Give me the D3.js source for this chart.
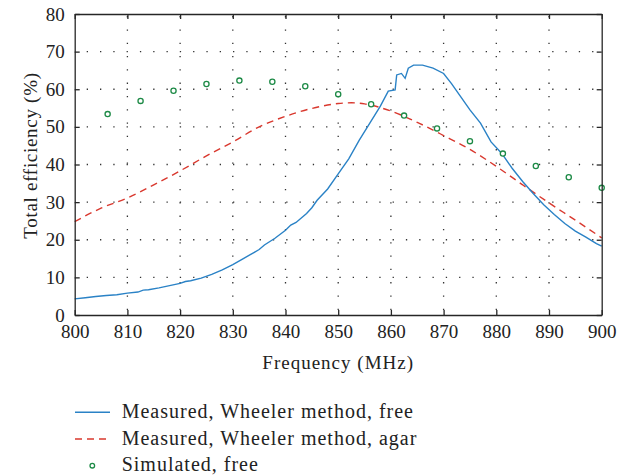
<!DOCTYPE html>
<html>
<head>
<meta charset="utf-8">
<script src="https://cdn.jsdelivr.net/npm/d3@7"></script>
<style>
  body { margin: 0; background: #fff; }
  svg { display: block; }
  text { font-family: "Liberation Serif", "Times New Roman", serif; fill: #222; }
</style>
</head>
<body>
<svg id="chart" width="633" height="476"></svg>
<script>
// ---- data ----
const xTicks = [800, 810, 820, 830, 840, 850, 860, 870, 880, 890, 900];
const yTicks = [0, 10, 20, 30, 40, 50, 60, 70, 80];

const freeFreq = [800, 802, 804, 806, 808, 810, 812, 813, 814, 816, 818, 820, 821, 822, 824, 826, 828, 830, 832, 834, 835, 836, 838, 840, 841, 842, 844, 845, 846, 848, 850, 852, 854, 856, 858, 859.5, 860.8, 861.1, 862, 862.7, 863.3, 864.3, 866, 868, 870, 871.5, 873, 875, 877, 879, 881, 883, 885, 887, 889, 891, 893, 895, 897, 899, 900];
const freeVal = [4.3, 4.6, 4.9, 5.2, 5.4, 5.8, 6.1, 6.6, 6.7, 7.2, 7.8, 8.4, 8.9, 9.1, 9.8, 10.8, 12.0, 13.4, 15.0, 16.6, 17.4, 18.6, 20.4, 22.5, 23.9, 24.6, 27.0, 28.5, 30.5, 33.5, 37.5, 41.5, 46.5, 51.0, 55.5, 59.5, 59.8, 63.8, 64.2, 62.9, 65.6, 66.4, 66.4, 65.6, 64.2, 61.5, 58.5, 54.5, 51.0, 46.0, 43.0, 39.0, 35.5, 32.3, 29.3, 26.7, 24.3, 22.3, 20.7, 19.0, 18.3];

const agarFreq = [800, 805, 810, 815, 820, 825, 830, 835, 840, 845, 850, 852.5, 855, 860, 865, 870, 875, 880, 885, 890, 895, 900];
const agarVal = [24.8, 28.4, 31.1, 34.6, 38.3, 42.3, 46.0, 50.0, 52.8, 54.9, 56.2, 56.4, 56.1, 54.2, 51.2, 47.7, 44.0, 39.5, 34.6, 29.8, 25.2, 20.5];

const simFreq = [806.25, 812.5, 818.75, 825, 831.25, 837.5, 843.75, 850, 856.25, 862.5, 868.75, 875, 881.25, 887.5, 893.75, 900];
const simVal = [53.4, 56.9, 59.6, 61.4, 62.3, 62.0, 60.8, 58.7, 56.0, 53.0, 49.6, 46.2, 42.9, 39.6, 36.6, 33.8];

const seriesNames = ["Measured, Wheeler method, free", "Measured, Wheeler method, agar", "Simulated, free"];
const xTitle = "Frequency (MHz)";
const yTitle = "Total efficiency (%)";

// ---- layout ----
const svg = d3.select("#chart");
const L = 74.7, R = 601.7, T = 14, B = 315;
const x = d3.scaleLinear().domain([800, 900]).range([L, R]);
const y = d3.scaleLinear().domain([0, 80]).range([B, T]);
const axisColor = "#262626";
const blue = "#2a82c6", red = "#d9382e", green = "#1d8a46";

// grid
const grid = svg.append("g");
grid.selectAll("line.vx").data(xTicks.slice(1, -1)).join("line")
  .attr("x1", d => x(d)).attr("x2", d => x(d)).attr("y1", B).attr("y2", T)
  .attr("stroke", "#333").attr("stroke-width", 1.3)
  .attr("stroke-dasharray", "1.3,12").attr("stroke-dashoffset", -5);
grid.selectAll("line.hy").data(yTicks.slice(1, -1)).join("line")
  .attr("x1", L).attr("x2", R).attr("y1", d => y(d)).attr("y2", d => y(d))
  .attr("stroke", "#333").attr("stroke-width", 1.3)
  .attr("stroke-dasharray", "1.3,12").attr("stroke-dashoffset", -12);

// data
const freeData = freeFreq.map((f, i) => [f, freeVal[i]]);
const agarData = agarFreq.map((f, i) => [f, agarVal[i]]);
const simData = simFreq.map((f, i) => [f, simVal[i]]);

svg.append("path").datum(agarData)
  .attr("d", d3.line().x(d => x(d[0])).y(d => y(d[1])).curve(d3.curveMonotoneX))
  .attr("fill", "none").attr("stroke", red).attr("stroke-width", 1.4)
  .attr("stroke-dasharray", "7,5");
svg.append("path").datum(freeData)
  .attr("d", d3.line().x(d => x(d[0])).y(d => y(d[1])))
  .attr("fill", "none").attr("stroke", blue).attr("stroke-width", 1.4);
svg.selectAll("circle.sim").data(simData).join("circle")
  .attr("cx", d => x(d[0])).attr("cy", d => y(d[1])).attr("r", 2.6)
  .attr("fill", "#fff").attr("stroke", green).attr("stroke-width", 1.3);

// axes
function styleAxis(g) {
  g.selectAll("path.domain").attr("stroke", axisColor).attr("stroke-width", 1.3);
  g.selectAll(".tick line").attr("stroke", axisColor).attr("stroke-width", 1.3);
  g.selectAll("text").attr("fill", "#222").attr("font-size", 19)
    .attr("font-family", "'Liberation Serif', 'Times New Roman', serif");
}
svg.append("g").attr("transform", `translate(0,${B})`)
  .call(d3.axisBottom(x).tickValues(xTicks).tickSize(-5).tickSizeOuter(0).tickPadding(10))
  .call(styleAxis);
svg.append("g").attr("transform", `translate(0,${T})`)
  .call(d3.axisTop(x).tickValues(xTicks).tickSize(-5).tickSizeOuter(0).tickFormat(""))
  .call(styleAxis);
svg.append("g").attr("transform", `translate(${L},0)`)
  .call(d3.axisLeft(y).tickValues(yTicks).tickSize(-5).tickSizeOuter(0).tickPadding(10))
  .call(styleAxis);
svg.append("g").attr("transform", `translate(${R},0)`)
  .call(d3.axisRight(y).tickValues(yTicks).tickSize(-5).tickSizeOuter(0).tickFormat(""))
  .call(styleAxis);

// titles
svg.append("text").attr("x", (L + R) / 2).attr("y", 369.3)
  .attr("text-anchor", "middle").attr("font-size", 19).attr("letter-spacing", 1)
  .text(xTitle);
svg.append("text").attr("transform", `translate(36.5,${(T + B) / 2 - 9}) rotate(-90)`)
  .attr("text-anchor", "middle").attr("font-size", 19).attr("letter-spacing", 0.7)
  .text(yTitle);

// legend
const lg = svg.append("g");
const rows = [412.3, 439, 465.7];
lg.append("line").attr("x1", 75).attr("x2", 110).attr("y1", rows[0]).attr("y2", rows[0])
  .attr("stroke", blue).attr("stroke-width", 1.4);
lg.append("line").attr("x1", 75).attr("x2", 110).attr("y1", rows[1]).attr("y2", rows[1])
  .attr("stroke", red).attr("stroke-width", 1.4).attr("stroke-dasharray", "7,5");
lg.append("circle").attr("cx", 92.3).attr("cy", rows[2]).attr("r", 2.3)
  .attr("fill", "#fff").attr("stroke", green).attr("stroke-width", 1.3);
lg.selectAll("text").data(seriesNames).join("text")
  .attr("x", 121.7).attr("y", (d, i) => rows[i] + 5.5)
  .attr("font-size", 20).attr("letter-spacing", 1)
  .text(d => d);
</script>
</body>
</html>
